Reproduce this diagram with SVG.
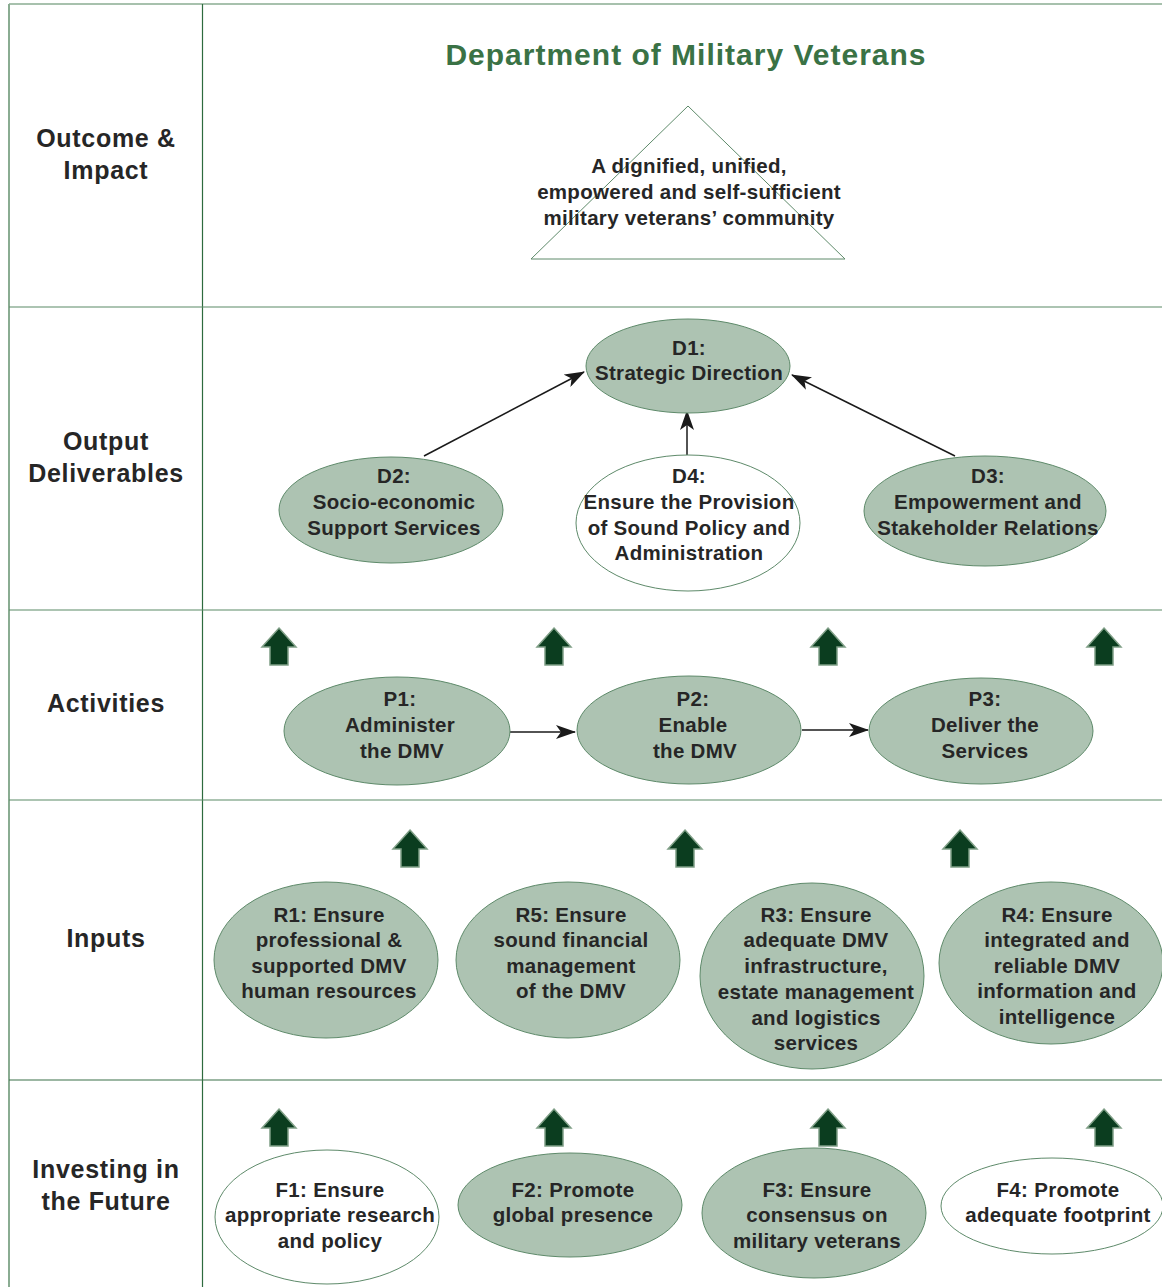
<svg xmlns="http://www.w3.org/2000/svg" width="1162" height="1287" viewBox="0 0 1162 1287">
<defs>
<style>
.t{font-family:"Liberation Sans",Arial,sans-serif;font-weight:bold;fill:#262626;text-anchor:middle;}
.n{font-size:20.5px;letter-spacing:0.3px;}
.lab{font-size:25px;letter-spacing:0.7px;}
.title{font-family:"Liberation Sans",Arial,sans-serif;font-weight:bold;font-size:30px;letter-spacing:1px;fill:#3a7245;text-anchor:middle;}
.f{fill:#adc3b2;stroke:#5e8a6a;stroke-width:1;}
.w{fill:#ffffff;stroke:#5e8a6a;stroke-width:1;}
.c{stroke:#1a1a1a;stroke-width:1.5;fill:none;marker-end:url(#ah);}
.grid{stroke:#5b8a66;stroke-width:1.2;}
.ba{fill:#0b3d1f;stroke:#7f9f86;stroke-width:1.5;stroke-linejoin:miter;}
</style>
<marker id="ah" viewBox="0 0 20 14" refX="19" refY="7" markerWidth="20" markerHeight="14" markerUnits="userSpaceOnUse" orient="auto">
<path d="M0,0 L20,7 L0,14 L5,7 Z" fill="#1a1a1a"/>
</marker>
<path id="up" d="M0,0 L17,19 L9,19 L9,37 L-9,37 L-9,19 L-17,19 Z"/>
</defs>
<rect width="1162" height="1287" fill="#ffffff"/>

<g id="grid">
<line x1="9" y1="4" x2="1162" y2="4" stroke="#8aac92" stroke-width="1.5"/>
<line x1="9" y1="4" x2="9" y2="1287" stroke="#8aac92" stroke-width="2"/>
<line x1="202.5" y1="4" x2="202.5" y2="1287" stroke="#2e6b3e" stroke-width="1.2"/>
<line class="grid" x1="9" y1="307" x2="1162" y2="307"/>
<line class="grid" x1="9" y1="610" x2="1162" y2="610"/>
<line class="grid" x1="9" y1="800" x2="1162" y2="800"/>
<line x1="9" y1="1080" x2="1162" y2="1080" stroke="#3a7048" stroke-width="1.2"/>
</g>

<g id="row-labels">
<text class="t lab" x="106" y="147">Outcome &amp;</text>
<text class="t lab" x="106" y="179">Impact</text>
<text class="t lab" x="106" y="450">Output</text>
<text class="t lab" x="106" y="482">Deliverables</text>
<text class="t lab" x="106" y="712">Activities</text>
<text class="t lab" x="106" y="947">Inputs</text>
<text class="t lab" x="106" y="1178">Investing in</text>
<text class="t lab" x="106" y="1210">the Future</text>
</g>

<g id="title">
<text class="title" x="686" y="65">Department of Military Veterans</text>
</g>

<g id="outcome">
<polygon points="688,106 845,259 531,259" fill="#ffffff" stroke="#5e8a6a" stroke-width="1"/>
<text class="t n" x="689" y="173">A dignified, unified,</text>
<text class="t n" x="689" y="199">empowered and self-sufficient</text>
<text class="t n" x="689" y="225">military veterans’ community</text>
</g>

<g id="connectors">
<line class="c" x1="424" y1="456" x2="584" y2="372"/>
<line class="c" x1="955" y1="456" x2="792" y2="375"/>
<line class="c" x1="687" y1="455" x2="687" y2="411"/>
<line class="c" x1="510" y1="732" x2="575" y2="732"/>
<line class="c" x1="802" y1="730" x2="868" y2="730"/>
</g>

<g id="D1">
<ellipse class="f" cx="688" cy="366" rx="102" ry="47"/>
<text class="t n" x="689" y="355">D1:</text>
<text class="t n" x="689" y="380">Strategic Direction</text>
</g>
<g id="D2">
<ellipse class="f" cx="391" cy="510" rx="112" ry="53"/>
<text class="t n" x="394" y="483">D2:</text>
<text class="t n" x="394" y="509">Socio-economic</text>
<text class="t n" x="394" y="535">Support Services</text>
</g>
<g id="D4">
<ellipse class="w" cx="688" cy="523" rx="112" ry="68"/>
<text class="t n" x="689" y="483">D4:</text>
<text class="t n" x="689" y="509">Ensure the Provision</text>
<text class="t n" x="689" y="535">of Sound Policy and</text>
<text class="t n" x="689" y="560">Administration</text>
</g>
<g id="D3">
<ellipse class="f" cx="985" cy="511" rx="121" ry="55"/>
<text class="t n" x="988" y="483">D3:</text>
<text class="t n" x="988" y="509">Empowerment and</text>
<text class="t n" x="988" y="535">Stakeholder Relations</text>
</g>

<g id="block-arrows">
<use href="#up" class="ba" x="279" y="628"/>
<use href="#up" class="ba" x="554" y="628"/>
<use href="#up" class="ba" x="828" y="628"/>
<use href="#up" class="ba" x="1104" y="628"/>
<use href="#up" class="ba" x="410" y="830"/>
<use href="#up" class="ba" x="685" y="830"/>
<use href="#up" class="ba" x="960" y="830"/>
<use href="#up" class="ba" x="279" y="1109"/>
<use href="#up" class="ba" x="554" y="1109"/>
<use href="#up" class="ba" x="828" y="1109"/>
<use href="#up" class="ba" x="1104" y="1109"/>
</g>

<g id="P1">
<ellipse class="f" cx="397" cy="731" rx="113" ry="54"/>
<text class="t n" x="400" y="706">P1:</text>
<text class="t n" x="400" y="732">Administer</text>
<text class="t n" x="402" y="758">the DMV</text>
</g>
<g id="P2">
<ellipse class="f" cx="689" cy="730" rx="112" ry="54"/>
<text class="t n" x="693" y="706">P2:</text>
<text class="t n" x="693" y="732">Enable</text>
<text class="t n" x="695" y="758">the DMV</text>
</g>
<g id="P3">
<ellipse class="f" cx="981" cy="731" rx="112" ry="53"/>
<text class="t n" x="985" y="706">P3:</text>
<text class="t n" x="985" y="732">Deliver the</text>
<text class="t n" x="985" y="758">Services</text>
</g>

<g id="R1">
<ellipse class="f" cx="326" cy="960" rx="112" ry="78"/>
<text class="t n" x="329" y="922">R1: Ensure</text>
<text class="t n" x="329" y="947">professional &amp;</text>
<text class="t n" x="329" y="973">supported DMV</text>
<text class="t n" x="329" y="998">human resources</text>
</g>
<g id="R5">
<ellipse class="f" cx="568" cy="960" rx="112" ry="78"/>
<text class="t n" x="571" y="922">R5: Ensure</text>
<text class="t n" x="571" y="947">sound financial</text>
<text class="t n" x="571" y="973">management</text>
<text class="t n" x="571" y="998">of the DMV</text>
</g>
<g id="R3">
<ellipse class="f" cx="812" cy="976" rx="112" ry="93"/>
<text class="t n" x="816" y="922">R3: Ensure</text>
<text class="t n" x="816" y="947">adequate DMV</text>
<text class="t n" x="816" y="973">infrastructure,</text>
<text class="t n" x="816" y="999">estate management</text>
<text class="t n" x="816" y="1025">and logistics</text>
<text class="t n" x="816" y="1050">services</text>
</g>
<g id="R4">
<ellipse class="f" cx="1051" cy="963" rx="112" ry="81"/>
<text class="t n" x="1057" y="922">R4: Ensure</text>
<text class="t n" x="1057" y="947">integrated and</text>
<text class="t n" x="1057" y="973">reliable DMV</text>
<text class="t n" x="1057" y="998">information and</text>
<text class="t n" x="1057" y="1024">intelligence</text>
</g>

<g id="F1">
<ellipse class="w" cx="327" cy="1217" rx="112" ry="67"/>
<text class="t n" x="330" y="1197">F1: Ensure</text>
<text class="t n" x="330" y="1222">appropriate research</text>
<text class="t n" x="330" y="1248">and policy</text>
</g>
<g id="F2">
<ellipse class="f" cx="570" cy="1205" rx="112" ry="52"/>
<text class="t n" x="573" y="1197">F2: Promote</text>
<text class="t n" x="573" y="1222">global presence</text>
</g>
<g id="F3">
<ellipse class="f" cx="814" cy="1213" rx="112" ry="65"/>
<text class="t n" x="817" y="1197">F3: Ensure</text>
<text class="t n" x="817" y="1222">consensus on</text>
<text class="t n" x="817" y="1248">military veterans</text>
</g>
<g id="F4">
<ellipse class="w" cx="1052" cy="1206" rx="111" ry="48"/>
<text class="t n" x="1058" y="1197">F4: Promote</text>
<text class="t n" x="1058" y="1222">adequate footprint</text>
</g>
</svg>
